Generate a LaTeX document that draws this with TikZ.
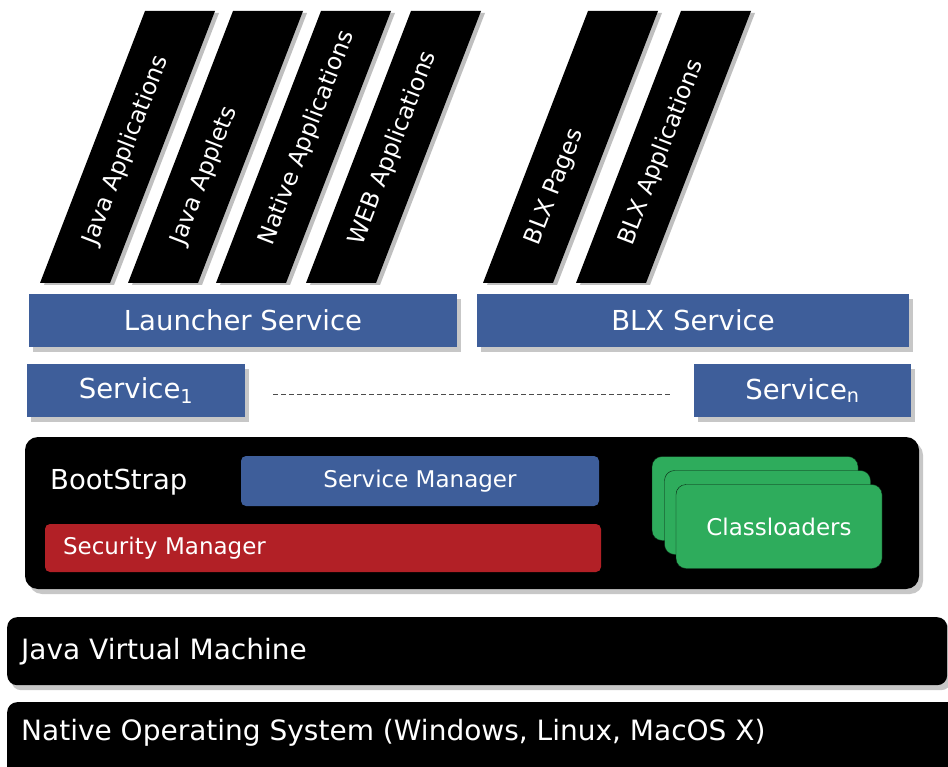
\documentclass[tikz,border=0pt]{standalone}
\usepackage{fontspec}
\setmainfont{DejaVu Sans}
\usetikzlibrary{shadows,positioning}

\definecolor{svcblue}{RGB}{62,94,154}
\definecolor{secred}{RGB}{178,32,38}
\definecolor{cardgreen}{RGB}{46,172,92}

\tikzset{
  softshadow/.style={drop shadow={shadow xshift=4pt, shadow yshift=-5pt, fill=black, opacity=0.22}},
  appbar/.style={fill=black, drop shadow={shadow xshift=4pt, shadow yshift=-2pt, fill=black, opacity=0.25}},
  apptext/.style={anchor=west, rotate=68.9, text=white, inner sep=0pt, font=\fontsize{23.5}{26}\selectfont},
  svcbox/.style={fill=svcblue, text=white, minimum height=53pt, inner sep=0pt, font=\fontsize{27.5}{30}\selectfont, softshadow},
  mgrbox/.style={rounded corners=5pt, text=white, inner sep=0pt, font=\fontsize{23}{26}\selectfont},
  cardbox/.style={fill=cardgreen, draw=black!80!cardgreen, thin, rounded corners=10pt, minimum width=206pt, minimum height=84pt, text=white, inner sep=0pt, font=\fontsize{23}{26}\selectfont},
  layerbox/.style={fill=black, rounded corners=10pt, inner sep=0pt},
  layertext/.style={text=white, inner sep=0pt, font=\fontsize{28}{32}\selectfont},
  dashline/.style={gray!60!black, line width=1pt, dash pattern=on 5pt off 3pt}
}

\begin{document}
\begin{tikzpicture}[x=1pt, y=-1pt]
    \clip (0,0) rectangle (948,767);
    \fill[white] (0,0) rectangle (948,767);
    % Application bars
    \fill[appbar] (40,283) -- ++(70,0) -- ++(105,-272) -- ++(-70,0) -- cycle;
    \fill[appbar] (128,283) -- ++(70,0) -- ++(105,-272) -- ++(-70,0) -- cycle;
    \fill[appbar] (216,283) -- ++(70,0) -- ++(105,-272) -- ++(-70,0) -- cycle;
    \fill[appbar] (306,283) -- ++(70,0) -- ++(105,-272) -- ++(-70,0) -- cycle;
    \fill[appbar] (483,283) -- ++(70,0) -- ++(105,-272) -- ++(-70,0) -- cycle;
    \fill[appbar] (576,283) -- ++(70,0) -- ++(105,-272) -- ++(-70,0) -- cycle;
    \node[apptext] (javaapps) at (90,244) {Java Applications};
    \node[apptext] (applets) at (178,244) {Java Applets};
    \node[apptext] (nativeapps) at (266,244) {Native Applications};
    \node[apptext] (webapps) at (356,244) {WEB Applications};
    \node[apptext] (blxpages) at (533,244) {BLX Pages};
    \node[apptext] (blxapps) at (626,244) {BLX Applications};
    % Services
    \node[svcbox, minimum width=428pt] (launcher) at (243,320.5) {Launcher Service};
    \node[svcbox, minimum width=432pt] (blx) at (693,320.5) {BLX Service};
    \node[svcbox, minimum width=218pt] (svc1) at (136,390.5) {Service\textsubscript{1}};
    \node[svcbox, minimum width=217pt] (svcn) at (802.5,390.5) {Service\textsubscript{n}};
    \draw[dashline] ([shift={(28pt,-3.5pt)}]svc1.east) -- ([shift={(-21pt,-3.5pt)}]svcn.west);
    % BootStrap
    \node[layerbox, rounded corners=13pt, minimum width=894pt, minimum height=152pt, softshadow] (boot) at (472,513) {};
    \node[layertext, anchor=base west, font=\fontsize{27.5}{30}\selectfont] (boottext) at (50,489) {BootStrap};
    \node[mgrbox, fill=svcblue, minimum width=358pt, minimum height=50pt] (svcmgr) at (420,481) {Service Manager};
    \node[mgrbox, fill=secred, minimum width=556pt, minimum height=48pt, text width=520pt, align=left] (secmgr) at (323,548) {Security Manager};
    \node[cardbox] (cl1) at (755,498.5) {};
    \node[cardbox] (cl2) at ([shift={(12.5pt,-14pt)}]cl1) {};
    \node[cardbox] (cl3) at ([shift={(11.5pt,-14pt)}]cl2) {Classloaders};
    % Lower layers
    \node[layerbox, anchor=north west, minimum width=940pt, minimum height=68pt, softshadow] (jvm) at (7,617) {};
    \node[layertext, anchor=west] (jvmtext) at (21,652) {Java Virtual Machine};
    \node[layerbox, anchor=north west, minimum width=960pt, minimum height=90pt] (os) at (7,702) {};
    \node[layertext, anchor=west] (ostext) at (21,733) {Native Operating System (Windows, Linux, MacOS X)};
\end{tikzpicture}
\end{document}
